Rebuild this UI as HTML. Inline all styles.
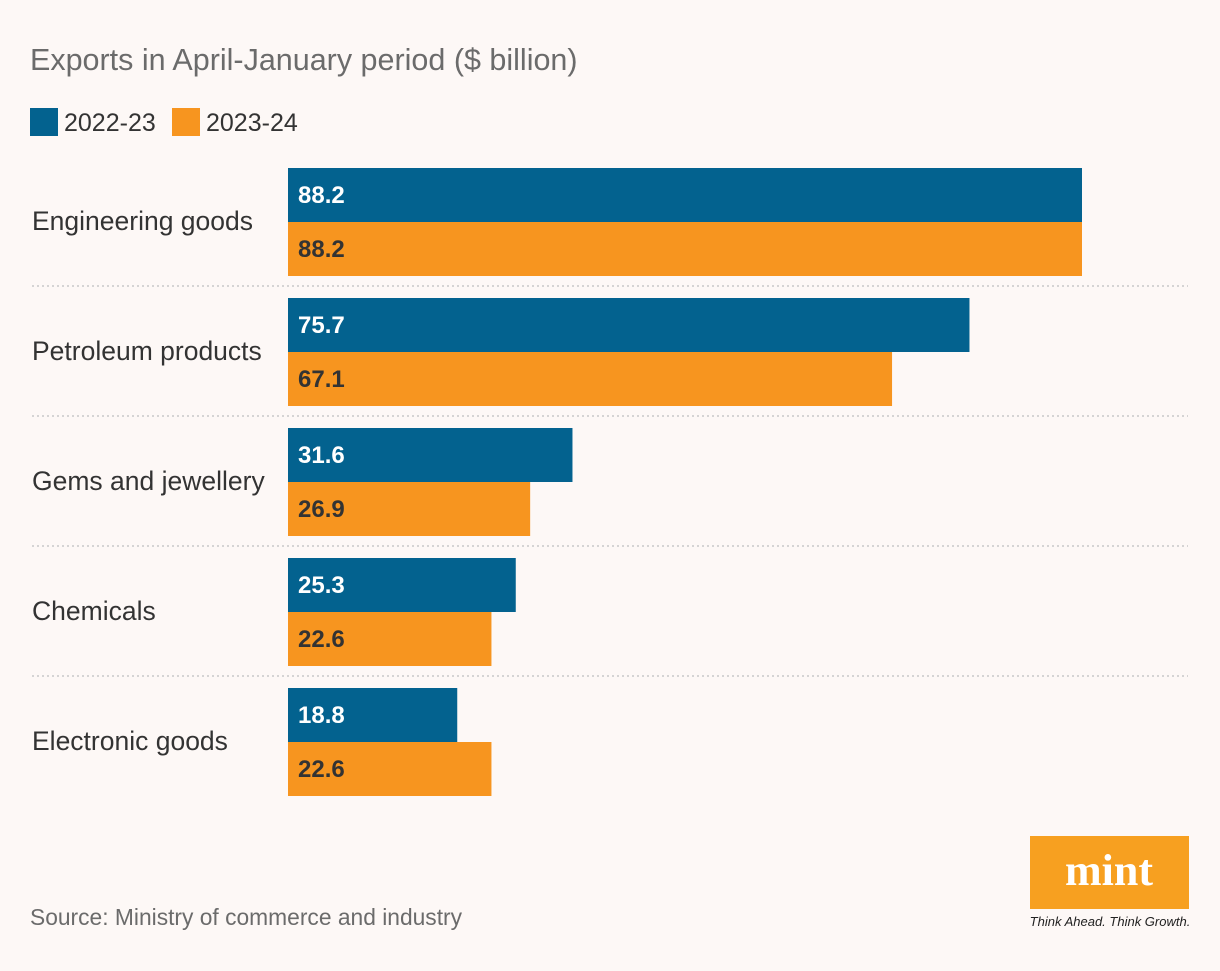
<!DOCTYPE html>
<html><head><meta charset="utf-8"><style>
body{margin:0;background:#fdf8f6;width:1220px;height:966px;overflow:hidden;font-family:"Liberation Sans",sans-serif;}
</style></head><body>
<svg id="c" width="1220" height="966">
<text x="30" y="70" font-size="30.5" fill="#6b6b6b">Exports in April-January period ($ billion)</text>
<g>
<rect x="30" y="108" width="28" height="28" fill="#03628f"/>
<text x="64" y="131" font-size="25" fill="#333">2022-23</text>
<rect x="172" y="108" width="28" height="28" fill="#f7951f"/>
<text x="206" y="131" font-size="25" fill="#333">2023-24</text>
</g>
<g id="bars"></g>
<text x="30" y="925" font-size="22.8" fill="#6b6b6b">Source: Ministry of commerce and industry</text>
<g>
<rect x="1030" y="836" width="159" height="73" fill="#f7a020"/>
<text x="1109" y="885" font-size="44" font-weight="bold" font-family="Liberation Serif,serif" fill="#fff" text-anchor="middle">mint</text>
<text x="1110" y="926" font-size="13" font-style="italic" fill="#222" text-anchor="middle">Think Ahead. Think Growth.</text>
</g>
</svg>
<script>
const categories=["Engineering goods","Petroleum products","Gems and jewellery","Chemicals","Electronic goods"];
const series2223=[88.2,75.7,31.6,25.3,18.8];
const series2324=[88.2,67.1,26.9,22.6,22.6];
const x0=288,scale=794/88.2,top0=168,groupH=130,barH=54;
const xs=v=>v*scale;
const g=document.getElementById('bars');
const NS='http://www.w3.org/2000/svg';
function mk(t,a){const e=document.createElementNS(NS,t);for(const k in a)e.setAttribute(k,a[k]);g.appendChild(e);return e;}
categories.forEach((c,i)=>{
 const y=top0+i*groupH;
 const l=mk('text',{x:32,y:y+62,'font-size':26.5,fill:'#333'});l.textContent=c;
 
 
 [[series2223,'#03628f','#fff'],[series2324,'#f7951f','#333']].forEach((s,j)=>{
  const r=mk('rect',{x:x0,y:y+j*barH,width:xs(s[0][i]),height:barH,fill:s[1]});
  
  
  const t=mk('text',{x:x0+10,y:y+j*barH+35,'font-size':24,'font-weight':'bold',fill:s[2]});t.textContent=s[0][i].toFixed(1);
  
  
 });
 if(i<categories.length-1){
  const ln=mk('line',{x1:32,x2:1188,y1:y+118,y2:y+118,stroke:'#c8c8c8','stroke-width':1.5,'stroke-dasharray':'2,3'});
  
  
 }
});
</script>
</body></html>
